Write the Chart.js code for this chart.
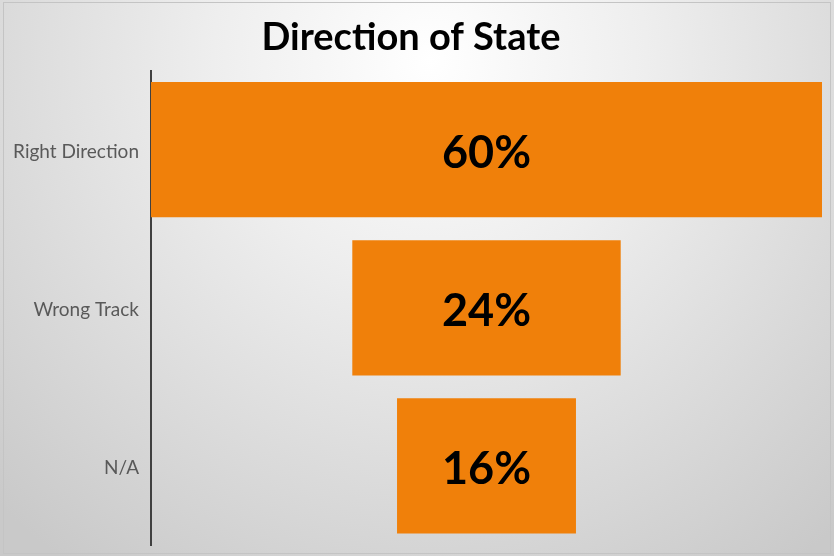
<!DOCTYPE html>
<html>
<head>
<meta charset="utf-8">
<script src="https://cdn.jsdelivr.net/npm/chart.js@4"></script>
<style>
html,body{margin:0;padding:0;background:#fff;}
#wrap{width:834px;height:556px;position:relative;}
</style>
</head>
<body>
<div id="wrap"><canvas id="c" width="834" height="556"></canvas></div>
<script>
const categories = ["Right Direction", "Wrong Track", "N/A"];
const values = [60, 24, 16];
const valueLabels = ["60%", "24%", "16%"];
const titleText = "Direction of State";

const MAXV = Math.max(...values);
const floating = values.map(v => [(MAXV - v) / 2, (MAXV + v) / 2]);

const bgPlugin = {
  id: 'bg',
  beforeDraw(chart) {
    const ctx = chart.ctx, w = chart.width, h = chart.height;
    ctx.save();
    const g = ctx.createRadialGradient(430, 60, 0, 430, 60, 620);
    g.addColorStop(0, '#ffffff');
    g.addColorStop(0.35, '#eeeeee');
    g.addColorStop(1, '#c9c9c9');
    ctx.fillStyle = g;
    ctx.fillRect(0, 0, w, h);
    ctx.strokeStyle = '#c4c4c4';
    ctx.lineWidth = 1;
    ctx.strokeRect(3.5, 2.5, w - 7, h - 5);
    ctx.restore();
  }
};

const labelPlugin = {
  id: 'vlabels',
  afterDatasetsDraw(chart) {
    const ctx = chart.ctx;
    const meta = chart.getDatasetMeta(0);
    ctx.save();
    ctx.font = 'bold 45px Lato';
    ctx.fillStyle = '#000000';
    ctx.textAlign = 'center';
    ctx.textBaseline = 'middle';
    meta.data.forEach((bar, i) => {
      const p = bar.getProps(['x', 'base', 'y'], true);
      ctx.fillText(valueLabels[i], (p.x + p.base) / 2, p.y + 4);
    });
    ctx.restore();
  }
};

new Chart(document.getElementById('c'), {
  type: 'bar',
  data: {
    labels: categories,
    datasets: [{
      data: floating,
      backgroundColor: '#F0800A',
      borderWidth: 0,
      barPercentage: 0.855,
      categoryPercentage: 1.0
    }]
  },
  options: {
    indexAxis: 'y',
    responsive: false,
    animation: false,
    devicePixelRatio: 1,
    layout: { autoPadding: false, padding: { left: 0, right: 12, top: 0, bottom: 11 } },
    plugins: {
      legend: { display: false },
      tooltip: { enabled: false },
      title: {
        display: true,
        text: titleText,
        color: '#000000',
        font: { family: 'Lato', size: 38, weight: 'bold', lineHeight: 1.2 },
        padding: { top: 15, bottom: 10 }
      }
    },
    scales: {
      x: {
        display: false,
        min: 0,
        max: MAXV
      },
      y: {
        offset: true,
        grid: { display: false, drawTicks: false },
        border: { display: true, color: '#404040', width: 2 },
        ticks: {
          color: '#595959',
          font: { family: 'Lato', size: 19 },
          padding: 12,
          labelOffset: 2
        },
        afterFit(s) { s.width = 151; s.paddingTop = 0; s.paddingBottom = 0; }
      }
    }
  },
  plugins: [bgPlugin, labelPlugin]
});
</script>
</body>
</html>
